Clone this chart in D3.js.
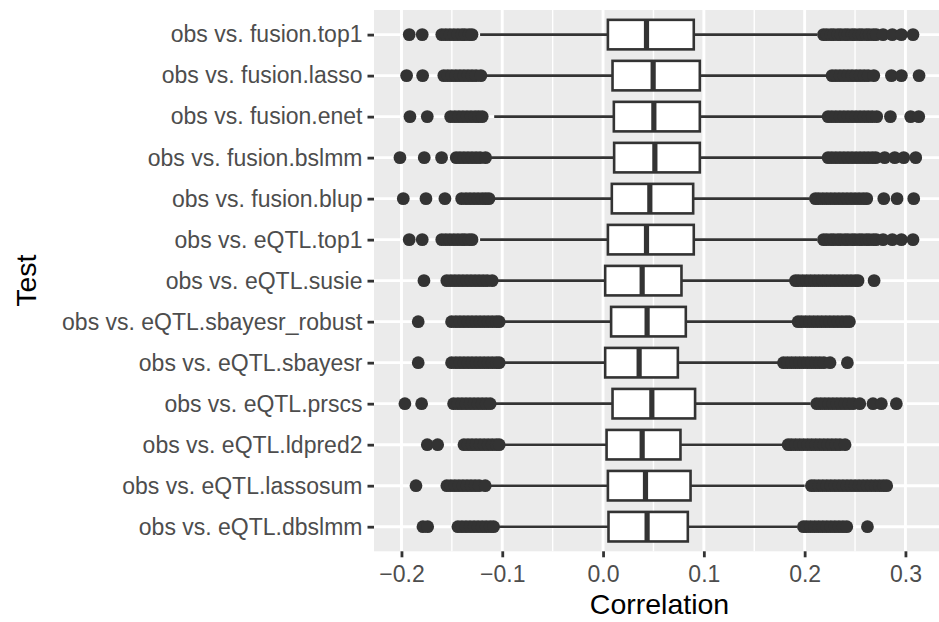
<!DOCTYPE html>
<html>
<head>
<meta charset="utf-8">
<script src="https://cdn.jsdelivr.net/npm/d3@7"></script>
<style>
  body { margin: 0; background: #ffffff; }
  text { font-family: "Liberation Sans", Arial, Helvetica, sans-serif; }
</style>
</head>
<body>
<svg id="chart" width="939" height="622"></svg>
<script>
// Test comparisons, listed top to bottom
const categories = [
  "obs vs. fusion.top1",
  "obs vs. fusion.lasso",
  "obs vs. fusion.enet",
  "obs vs. fusion.bslmm",
  "obs vs. fusion.blup",
  "obs vs. eQTL.top1",
  "obs vs. eQTL.susie",
  "obs vs. eQTL.sbayesr_robust",
  "obs vs. eQTL.sbayesr",
  "obs vs. eQTL.prscs",
  "obs vs. eQTL.ldpred2",
  "obs vs. eQTL.lassosum",
  "obs vs. eQTL.dbslmm"
];

// Box summaries (correlation)
const q1          = [0.0048, 0.0094, 0.0107, 0.0110, 0.0087, 0.0048, 0.0021, 0.0080, 0.0021, 0.0094, 0.0035, 0.0048, 0.0054];
const median      = [0.0431, 0.0497, 0.0504, 0.0514, 0.0464, 0.0431, 0.0388, 0.0437, 0.0358, 0.0484, 0.0388, 0.0421, 0.0437];
const q3          = [0.0900, 0.0960, 0.0960, 0.0960, 0.0894, 0.0900, 0.0778, 0.0821, 0.0742, 0.0913, 0.0768, 0.0868, 0.0841];
const whiskerLow  = [-0.122, -0.117, -0.108, -0.112, -0.109, -0.122, -0.105, -0.098, -0.098, -0.107, -0.098, -0.112, -0.104];
const whiskerHigh = [0.2125, 0.222, 0.218, 0.218, 0.205, 0.2125, 0.186, 0.188, 0.174, 0.206, 0.178, 0.200, 0.193];

// Outlying correlations per test
const outliersTop1 = [
  -0.1923, -0.1794, -0.160, -0.156, -0.152, -0.148, -0.144, -0.140, -0.137, -0.133, -0.130,
  0.2187, 0.222, 0.226, 0.229, 0.233, 0.236, 0.240, 0.243, 0.247, 0.250, 0.254, 0.257, 0.261, 0.264, 0.268, 0.271,
  0.2778, 0.287, 0.296, 0.3075
];
const outliers = [
  outliersTop1,
  [-0.1949, -0.1790, -0.158, -0.154, -0.150, -0.146, -0.142, -0.138, -0.134, -0.130, -0.126, -0.1212,
   0.2272, 0.231, 0.235, 0.239, 0.243, 0.247, 0.251, 0.255, 0.259, 0.263, 0.2686, 0.2861, 0.296, 0.3135],
  [-0.1916, -0.1744, -0.1512, -0.147, -0.143, -0.139, -0.135, -0.131, -0.127, -0.1235, -0.1199,
   0.2233, 0.227, 0.231, 0.235, 0.239, 0.243, 0.247, 0.251, 0.255, 0.259, 0.263, 0.267, 0.2715, 0.2851, 0.3052, 0.3132],
  [-0.2015, -0.1774, -0.1602, -0.1457, -0.142, -0.138, -0.134, -0.130, -0.126, -0.122, -0.1166,
   0.2233, 0.227, 0.231, 0.235, 0.239, 0.243, 0.247, 0.251, 0.255, 0.259, 0.263, 0.267, 0.2705, 0.2794, 0.2894, 0.2983, 0.3102],
  [-0.1982, -0.1757, -0.1569, -0.1403, -0.136, -0.132, -0.128, -0.124, -0.120, -0.1165, -0.1132,
   0.2107, 0.214, 0.218, 0.222, 0.226, 0.230, 0.234, 0.238, 0.242, 0.246, 0.250, 0.254, 0.258, 0.2616, 0.2785, 0.2917, 0.3082],
  outliersTop1,
  [-0.1777, -0.155, -0.151, -0.147, -0.143, -0.139, -0.135, -0.131, -0.127, -0.123, -0.119, -0.115, -0.110,
   0.1909, 0.194, 0.198, 0.202, 0.206, 0.210, 0.214, 0.218, 0.222, 0.226, 0.230, 0.234, 0.238, 0.242, 0.246, 0.250, 0.253, 0.2689],
  [-0.1834, -0.1503, -0.146, -0.142, -0.138, -0.134, -0.130, -0.126, -0.122, -0.118, -0.114, -0.110, -0.106, -0.103,
   0.1935, 0.197, 0.201, 0.205, 0.209, 0.213, 0.217, 0.221, 0.225, 0.229, 0.233, 0.237, 0.241, 0.2444],
  [-0.1834, -0.1503, -0.146, -0.142, -0.138, -0.134, -0.130, -0.126, -0.122, -0.118, -0.114, -0.110, -0.106, -0.103,
   0.179, 0.183, 0.187, 0.191, 0.195, 0.199, 0.203, 0.207, 0.211, 0.215, 0.219, 0.2252, 0.2424],
  [-0.1966, -0.1800, -0.1483, -0.144, -0.140, -0.136, -0.132, -0.128, -0.124, -0.120, -0.116, -0.112,
   0.212, 0.216, 0.220, 0.224, 0.228, 0.232, 0.236, 0.240, 0.244, 0.248, 0.2547, 0.2678, 0.2761, 0.291],
  [-0.1744, -0.1641, -0.138, -0.134, -0.130, -0.126, -0.122, -0.118, -0.114, -0.110, -0.106, -0.103,
   0.1836, 0.187, 0.191, 0.195, 0.199, 0.203, 0.207, 0.211, 0.215, 0.219, 0.223, 0.227, 0.231, 0.235, 0.2401],
  [-0.1856, -0.155, -0.151, -0.147, -0.143, -0.139, -0.135, -0.131, -0.127, -0.123, -0.1169,
   0.2067, 0.210, 0.214, 0.218, 0.222, 0.226, 0.230, 0.234, 0.238, 0.242, 0.246, 0.250, 0.254, 0.258,
   0.262, 0.266, 0.270, 0.274, 0.278, 0.2814],
  [-0.1787, -0.1740, -0.144, -0.140, -0.136, -0.132, -0.128, -0.124, -0.120, -0.116, -0.112, -0.1086,
   0.1988, 0.202, 0.206, 0.210, 0.214, 0.218, 0.222, 0.226, 0.230, 0.234, 0.238, 0.2418, 0.2623]
];

const xTicks = [-0.2, -0.1, 0.0, 0.1, 0.2, 0.3];
const xMinorTicks = [-0.15, -0.05, 0.05, 0.15, 0.25];
const xTitle = "Correlation";
const yTitle = "Test";

const svg = d3.select("#chart");
const panel = { left: 374, top: 10, right: 945, bottom: 551.3 };

// Data range with 5% expansion on each side
const allValues = outliers.flat().concat(whiskerLow, whiskerHigh);
const [vmin, vmax] = d3.extent(allValues);
const pad = (vmax - vmin) * 0.05;

const x = d3.scaleLinear()
  .domain([vmin - pad, vmax + pad])
  .range([panel.left, panel.right]);

const y = d3.scalePoint()
  .domain(categories)
  .range([panel.top, panel.bottom])
  .padding(0.6);

const step = y.step();
const boxHalf = step * 0.36;
const ink = "#333333";

// Panel background
svg.append("rect")
  .attr("x", panel.left).attr("y", panel.top)
  .attr("width", panel.right - panel.left)
  .attr("height", panel.bottom - panel.top)
  .attr("fill", "#EBEBEB");

const grid = svg.append("g");
grid.selectAll(".minor").data(xMinorTicks).join("line")
  .attr("x1", d => x(d)).attr("x2", d => x(d))
  .attr("y1", panel.top).attr("y2", panel.bottom)
  .attr("stroke", "#ffffff").attr("stroke-width", 1.4);
grid.selectAll(".major").data(xTicks).join("line")
  .attr("x1", d => x(d)).attr("x2", d => x(d))
  .attr("y1", panel.top).attr("y2", panel.bottom)
  .attr("stroke", "#ffffff").attr("stroke-width", 2.9);
grid.selectAll(".hmajor").data(categories).join("line")
  .attr("x1", panel.left).attr("x2", panel.right)
  .attr("y1", d => y(d)).attr("y2", d => y(d))
  .attr("stroke", "#ffffff").attr("stroke-width", 2.9);

// Boxplots
const rows = categories.map((c, i) => ({
  cat: c, q1: q1[i], med: median[i], q3: q3[i],
  lo: whiskerLow[i], hi: whiskerHigh[i], out: outliers[i]
}));

const g = svg.append("g");
rows.forEach(r => {
  const cy = y(r.cat);
  // whiskers
  g.append("line")
    .attr("x1", x(r.lo)).attr("x2", x(r.q1))
    .attr("y1", cy).attr("y2", cy)
    .attr("stroke", ink).attr("stroke-width", 2.6);
  g.append("line")
    .attr("x1", x(r.q3)).attr("x2", x(r.hi))
    .attr("y1", cy).attr("y2", cy)
    .attr("stroke", ink).attr("stroke-width", 2.6);
  // box
  g.append("rect")
    .attr("x", x(r.q1)).attr("y", cy - boxHalf)
    .attr("width", x(r.q3) - x(r.q1)).attr("height", boxHalf * 2)
    .attr("fill", "#ffffff").attr("stroke", ink).attr("stroke-width", 2.6);
  // median
  g.append("line")
    .attr("x1", x(r.med)).attr("x2", x(r.med))
    .attr("y1", cy - boxHalf).attr("y2", cy + boxHalf)
    .attr("stroke", ink).attr("stroke-width", 5.2);
  // outliers
  g.selectAll(null).data(r.out).join("circle")
    .attr("cx", d => x(d)).attr("cy", cy)
    .attr("r", 6.4).attr("fill", ink);
});

// X axis
const xAxis = svg.append("g")
  .attr("transform", `translate(0,${panel.bottom})`)
  .call(d3.axisBottom(x).tickValues(xTicks).tickSize(6).tickPadding(8)
    .tickFormat(d => d3.format(".1f")(d).replace("-", "\u2212")));
xAxis.select(".domain").remove();
xAxis.selectAll(".tick line").attr("stroke", ink).attr("stroke-width", 2.8);
xAxis.selectAll(".tick text").attr("fill", "#4D4D4D").attr("font-size", 23);

// Y axis
const yAxis = svg.append("g")
  .attr("transform", `translate(${panel.left},0)`)
  .call(d3.axisLeft(y).tickSize(6.5).tickPadding(5));
yAxis.select(".domain").remove();
yAxis.selectAll(".tick line").attr("stroke", ink).attr("stroke-width", 2.8);
yAxis.selectAll(".tick text").attr("fill", "#4D4D4D").attr("font-size", 23);

// Axis titles
svg.append("text")
  .attr("x", (panel.left + panel.right) / 2).attr("y", 614)
  .attr("text-anchor", "middle").attr("font-size", 28.5)
  .attr("fill", "#000000").text(xTitle);

svg.append("text")
  .attr("transform", `translate(36,${(panel.top + panel.bottom) / 2}) rotate(-90)`)
  .attr("text-anchor", "middle").attr("font-size", 28.5)
  .attr("fill", "#000000").text(yTitle);
</script>
</body>
</html>
